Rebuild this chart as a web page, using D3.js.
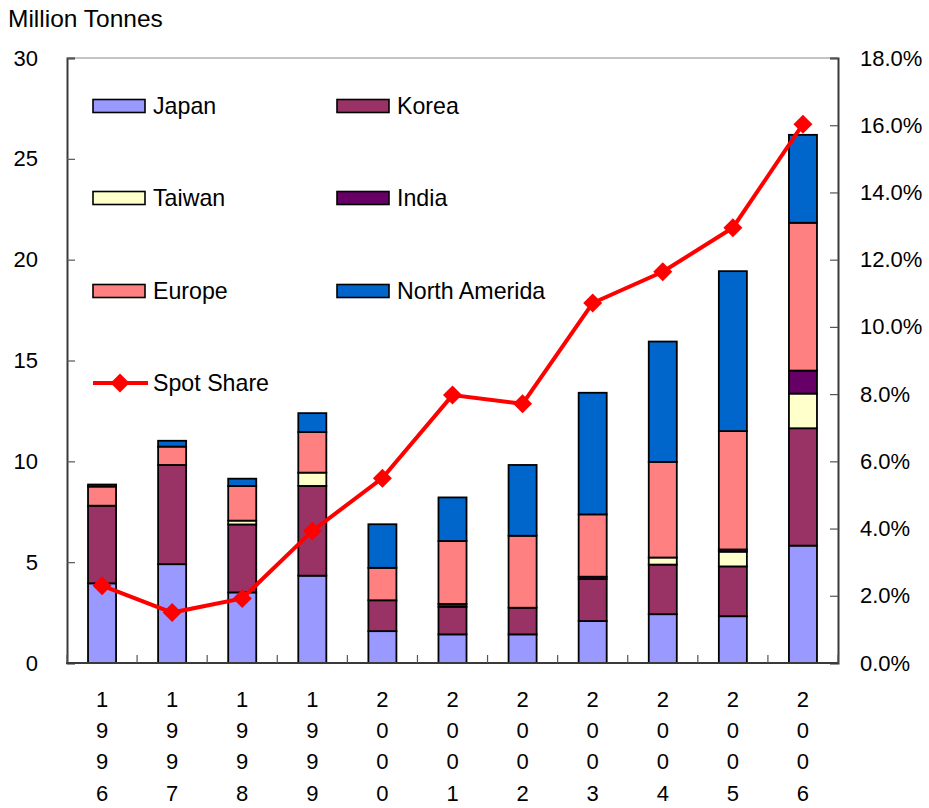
<!DOCTYPE html>
<html>
<head>
<meta charset="utf-8">
<script src="https://cdn.jsdelivr.net/npm/d3@7"></script>
<style>
  html, body { margin: 0; padding: 0; background: #fff; }
  svg { display: block; font-family: "Liberation Sans", Arial, sans-serif; }
</style>
</head>
<body>
<svg id="chart" width="929" height="808"></svg>
<script>
// Years on the category axis
const years = ["1996", "1997", "1998", "1999", "2000", "2001", "2002", "2003", "2004", "2005", "2006"];

// Volumes by buyer region (million tonnes)
const japan        = [3.95, 4.90, 3.50, 4.33, 1.58, 1.42, 1.42, 2.08, 2.42, 2.32, 5.82];
const korea        = [3.85, 4.92, 3.37, 4.45, 1.53, 1.37, 1.32, 2.08, 2.46, 2.47, 5.82];
const taiwan       = [0.00, 0.00, 0.19, 0.66, 0.00, 0.00, 0.00, 0.00, 0.35, 0.73, 1.72];
const india        = [0.00, 0.00, 0.00, 0.00, 0.00, 0.14, 0.00, 0.12, 0.00, 0.11, 1.14];
const europe       = [0.95, 0.91, 1.72, 2.01, 1.61, 3.12, 3.57, 3.09, 4.74, 5.87, 7.33];
const northAmerica = [0.10, 0.29, 0.36, 0.94, 2.16, 2.16, 3.51, 6.03, 5.97, 7.93, 4.36];

// Spot share of total trade (%)
const spotShare = [2.30, 1.50, 1.92, 3.93, 5.50, 7.97, 7.71, 10.71, 11.64, 12.95, 16.03];

// Axis ticks
const leftTicks = [0, 5, 10, 15, 20, 25, 30];
const rightTicks = [0, 2, 4, 6, 8, 10, 12, 14, 16, 18];

const seriesNames = ["Japan", "Korea", "Taiwan", "India", "Europe", "North Amerida"];
const seriesValues = [japan, korea, taiwan, india, europe, northAmerica];
const seriesColors = ["#9999FF", "#993366", "#FFFFCC", "#660066", "#FF8080", "#0066CC"];

const svg = d3.select("#chart");
const L = 67, R = 838, T = 58, B = 663;

const x = d3.scaleBand().domain(years).range([L, R]).paddingInner(0.6).paddingOuter(0.3);
const yL = d3.scaleLinear().domain([0, 30]).range([B, T]);
const yR = d3.scaleLinear().domain([0, 18]).range([B, T]);

// Build stacked table
const table = years.map((yr, i) => {
  const row = { year: yr };
  seriesNames.forEach((n, k) => row[n] = seriesValues[k][i]);
  return row;
});
const stack = d3.stack().keys(seriesNames)(table);

// Plot frame
svg.append("line").attr("x1", L).attr("x2", R).attr("y1", T).attr("y2", T)
  .attr("stroke", "#8a8a8a").attr("stroke-width", 1);

// Bars
const layers = svg.append("g").selectAll("g").data(stack).join("g")
  .attr("fill", (d, k) => seriesColors[k]);
layers.selectAll("rect").data(d => d.filter(s => s[1] - s[0] > 0)).join("rect")
  .attr("x", d => x(d.data.year))
  .attr("width", x.bandwidth())
  .attr("y", d => yL(d[1]))
  .attr("height", d => yL(d[0]) - yL(d[1]))
  .attr("stroke", "#000")
  .attr("stroke-width", 1.8);

// Left axis
const gL = svg.append("g").attr("transform", `translate(${L},0)`)
  .call(d3.axisLeft(yL).tickValues(leftTicks).tickSize(-8).tickPadding(29).tickFormat(d3.format("d")));
// Right axis
const gR = svg.append("g").attr("transform", `translate(${R},0)`)
  .call(d3.axisRight(yR).tickValues(rightTicks).tickSize(-8).tickPadding(22).tickFormat(d => d.toFixed(1) + "%"));
[gL, gR].forEach(g => {
  g.select(".domain").attr("stroke", "#3a3a3a").attr("stroke-width", 2);
  g.selectAll(".tick line").attr("stroke", "#555").attr("stroke-width", 1.2);
  g.selectAll(".tick text").attr("font-size", 22).attr("fill", "#000")
    .attr("font-family", "'Liberation Sans', Arial, sans-serif");
});

// Bottom axis with ticks between categories
const bounds = years.map(yr => x(yr) - x.step() * x.paddingInner() / 2).concat([R]);
svg.append("line").attr("x1", L - 1).attr("x2", R + 1).attr("y1", B).attr("y2", B)
  .attr("stroke", "#3a3a3a").attr("stroke-width", 2);
svg.append("g").selectAll("line").data(bounds).join("line")
  .attr("x1", d => d).attr("x2", d => d).attr("y1", B).attr("y2", B - 8)
  .attr("stroke", "#555").attr("stroke-width", 1.2);

// Vertical year labels (one digit per row)
const xl = svg.append("g").attr("font-size", 22).attr("text-anchor", "middle");
years.forEach(yr => {
  yr.split("").forEach((ch, j) => {
    xl.append("text").attr("x", x(yr) + x.bandwidth() / 2).attr("y", 699 + j * 31.3)
      .attr("dy", "0.35em").text(ch);
  });
});

// Spot share line
const cx = (d, i) => x(years[i]) + x.bandwidth() / 2;
const diamond = "M0,-9.5L9.5,0L0,9.5L-9.5,0Z";
svg.append("path").datum(spotShare)
  .attr("fill", "none").attr("stroke", "#FF0000").attr("stroke-width", 4)
  .attr("d", d3.line().x(cx).y(d => yR(d)));
svg.append("g").selectAll("path").data(spotShare).join("path")
  .attr("transform", (d, i) => `translate(${cx(d, i)},${yR(d)})`)
  .attr("d", diamond).attr("fill", "#FF0000");

// Title
svg.append("text").attr("x", 8).attr("y", 27).attr("font-size", 24.5).text("Million Tonnes");

// Legend
const legendRows = [106, 198, 291];
const legendCols = [93, 337];
const lg = svg.append("g").attr("font-size", 23.2);
seriesNames.forEach((n, k) => {
  const col = k % 2, row = Math.floor(k / 2);
  const lx = legendCols[col], ly = legendRows[row];
  lg.append("rect").attr("x", lx).attr("y", ly - 6.5).attr("width", 52).attr("height", 13)
    .attr("fill", seriesColors[k]).attr("stroke", "#000").attr("stroke-width", 1.6);
  lg.append("text").attr("x", lx + 60).attr("y", ly).attr("dy", "0.35em").text(n);
});
lg.append("line").attr("x1", 93).attr("x2", 148).attr("y1", 383).attr("y2", 383)
  .attr("stroke", "#FF0000").attr("stroke-width", 4);
lg.append("path").attr("transform", "translate(120,383)").attr("d", diamond).attr("fill", "#FF0000");
lg.append("text").attr("x", 153).attr("y", 383).attr("dy", "0.35em").text("Spot Share");
</script>
</body>
</html>
